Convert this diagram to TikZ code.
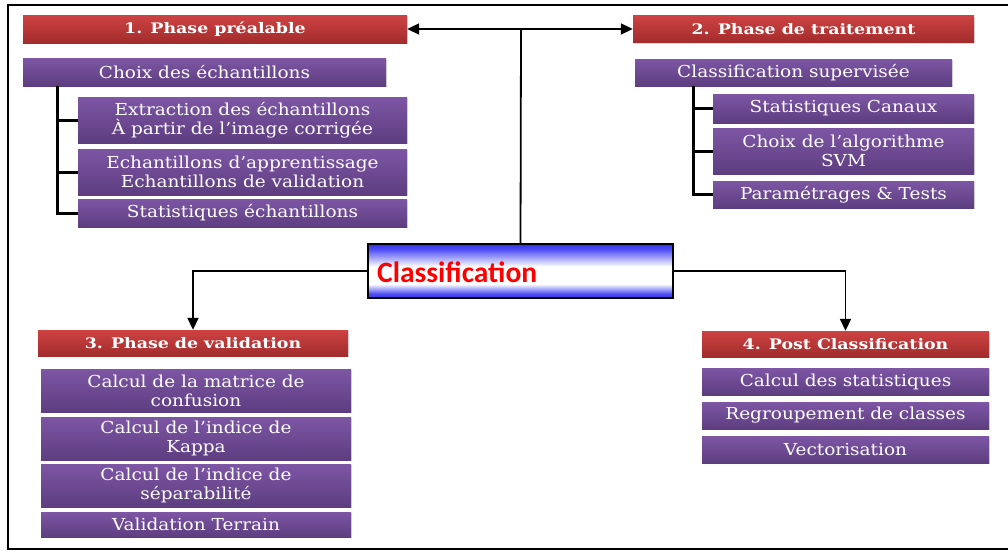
\documentclass[tikz,border=0pt]{standalone}
\usepackage{fontspec}
\usetikzlibrary{shadows,arrows.meta}
\newfontfamily\boxfont[FakeStretch=1.12]{DejaVu Serif}
\newfontfamily\hdrfont[FakeStretch=1.2]{DejaVu Serif}
\newfontfamily\clsfont{Carlito}
\definecolor{redtop}{HTML}{CE4242}
\definecolor{redbot}{HTML}{A22C2C}
\definecolor{purtop}{HTML}{7D56A4}
\definecolor{purbot}{HTML}{5D3D80}
\definecolor{clsblue}{HTML}{3030F0}
\definecolor{clsred}{HTML}{FF0000}
\pgfdeclareverticalshading{clsshade}{100bp}{color(0bp)=(clsblue); color(25bp)=(clsblue); color(29bp)=(clsblue!85); color(38bp)=(white); color(54bp)=(white); color(70bp)=(clsblue!85); color(75bp)=(clsblue); color(100bp)=(clsblue)}
\tikzset{
  hdr/.style={shading=axis, top color=redtop, bottom color=redbot, text=white,
    inner sep=0pt, font=\hdrfont\bfseries\fontsize{14.5}{16}\selectfont,
    drop shadow={shadow xshift=1.2pt, shadow yshift=-1.2pt, opacity=0.25}},
  pbox/.style={shading=axis, top color=purtop, bottom color=purbot, text=white,
    inner sep=0pt, align=center, font=\boxfont\fontsize{16.5}{19}\selectfont,
    drop shadow={shadow xshift=1.2pt, shadow yshift=-1.2pt, opacity=0.25}},
  arr/.style={line width=1.8pt, -{Triangle[length=12pt,width=11pt]}},
  conn/.style={line width=1.8pt},
  brk/.style={line width=3pt},
}
\begin{document}
\begin{tikzpicture}[x=1pt,y=-1pt]
\useasboundingbox (0,0) rectangle (1008,550);
\fill[white] (0,0) rectangle (1008,550);
% frame
\draw[line width=1.5pt] (1008,5) -- (8,5) -- (8,549) -- (1008,549);

% Phase 1
\node[hdr, minimum width=384pt, minimum height=28pt] (h1) at (215,29) {1. Phase préalable};
\node[pbox, minimum width=363pt, minimum height=28pt] (c1) at (204.5,72) {Choix des échantillons};
\node[pbox, minimum width=329pt, minimum height=46pt] (e1) at (242.5,120) {Extraction des échantillons\\À partir de l’image corrigée};
\node[pbox, minimum width=329pt, minimum height=46pt] (e2) at (242.5,172) {Echantillons d’apprentissage\\Echantillons de validation};
\node[pbox, minimum width=329pt, minimum height=28pt] (e3) at (242.5,213) {Statistiques échantillons};
\coordinate (b1) at (57,86);
\draw[brk] (b1) |- (e1.west);
\draw[brk] (b1) |- (e2.west);
\draw[brk] (b1) |- (e3.west);

% Phase 2
\node[hdr, minimum width=341pt, minimum height=27pt] (h2) at (803.5,29) {2. Phase de traitement};
\node[pbox, minimum width=317pt, minimum height=27pt] (c2) at (793.5,72.5) {Classification supervisée};
\node[pbox, minimum width=261pt, minimum height=29pt] (s1) at (843.5,108.5) {Statistiques Canaux};
\node[pbox, minimum width=261pt, minimum height=46pt] (s2) at (843.5,151) {Choix de l’algorithme\\SVM};
\node[pbox, minimum width=261pt, minimum height=27pt] (s3) at (843.5,194.5) {Paramétrages \& Tests};
\coordinate (b2) at (693,86);
\draw[brk] (b2) |- (s1.west);
\draw[brk] (b2) |- (s2.west);
\draw[brk] (b2) |- (s3.west);

% Centre
\node[draw=black, line width=2.4pt, shading=clsshade,
  minimum width=305pt, minimum height=54pt, inner sep=0pt,
  drop shadow={shadow xshift=1.2pt, shadow yshift=-1.2pt, opacity=0.25}] (cls) at (520.5,271) {};
\node[anchor=west, text=clsred, font=\clsfont\bfseries\fontsize{29.5}{32}\selectfont, inner sep=0pt] (clst) at (377,272) {Classification};
\coordinate (top) at (521,29);
\draw[conn] (cls.north) -- (top);
\draw[arr] (top) -- (h1.east);
\draw[arr] (top) -- (h2.west);

% Phase 3
\node[hdr, minimum width=310pt, minimum height=26pt] (h3) at (193,343) {3. Phase de validation};
\node[pbox, minimum width=310pt, minimum height=43pt] (v1) at (196,390.5) {Calcul de la matrice de\\confusion};
\node[pbox, minimum width=310pt, minimum height=43pt] (v2) at (196,438.5) {Calcul de l’indice de\\Kappa};
\node[pbox, minimum width=310pt, minimum height=43pt] (v3) at (196,485.5) {Calcul de l’indice de\\séparabilité};
\node[pbox, minimum width=310pt, minimum height=25pt] (v4) at (196,524.5) {Validation Terrain};

% Phase 4
\node[hdr, minimum width=287pt, minimum height=26pt] (h4) at (845.5,344) {4. Post Classification};
\node[pbox, minimum width=287pt, minimum height=27pt] (p1) at (845.5,381.5) {Calcul des statistiques};
\node[pbox, minimum width=287pt, minimum height=27pt] (p2) at (845.5,415.5) {Regroupement de classes};
\node[pbox, minimum width=287pt, minimum height=27pt] (p3) at (845.5,449.5) {Vectorisation};

\draw[arr] (cls.west) -| (h3.north);
\draw[arr] (cls.east) -| (h4.north);
\end{tikzpicture}
\end{document}
